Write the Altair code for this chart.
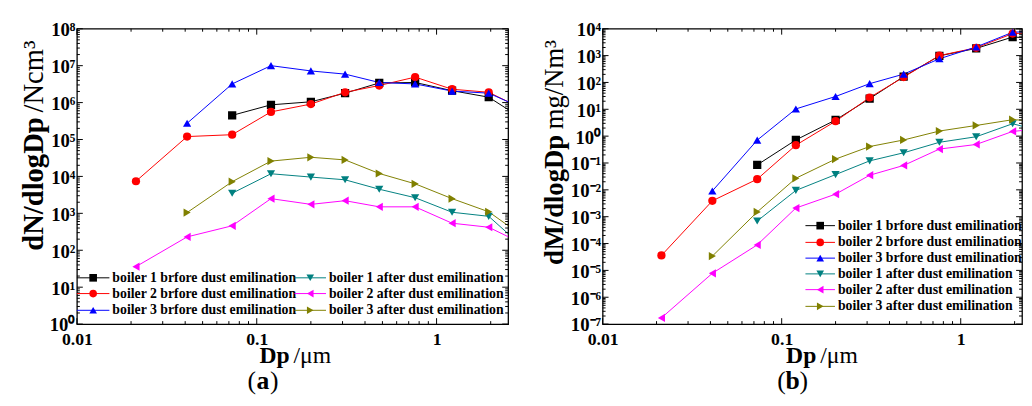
import altair as alt
import pandas as pd

FONT = "Liberation Serif"

# ---------------- data ----------------
dp_um = [0.0213, 0.041, 0.073, 0.12, 0.2, 0.31, 0.48, 0.76, 1.22, 1.95, 3.1]

series_names = [
    "boiler 1 brfore dust emilination",
    "boiler 2 brfore dust emilination",
    "boiler 3 brfore dust emilination",
    "boiler 1 after dust emilination",
    "boiler 2 after dust emilination",
    "boiler 3 after dust emilination",
]
series_colors = ["#000000", "#ff0000", "#0000ff", "#008080", "#ff00ff", "#808000"]
series_shapes = ["square", "circle", "triangle-up", "triangle-down", "triangle-left", "triangle-right"]

# panel (a): number size distribution dN/dlogDp
dN_b1_before = [None, None, 4.5e5, 8.7e5, 1.05e6, 1.8e6, 3.4e6, 3.5e6, 2.1e6, 1.4e6, 3.3e5]
dN_b2_before = [7.4e3, 1.2e5, 1.35e5, 5.6e5, 9.1e5, 1.9e6, 2.9e6, 4.9e6, 2.3e6, 1.9e6, 6.3e5]
dN_b3_before = [None, 2.75e5, 3.2e6, 1.0e7, 7.2e6, 5.9e6, 3.5e6, 3.2e6, 2.05e6, 1.8e6, 6.6e5]
dN_b1_after = [None, None, 3.5e3, 1.18e4, 9.6e3, 8.1e3, 4.5e3, 2.65e3, 1.07e3, 8.3e2, 1.1e2]
dN_b2_after = [36, 230, 460, 2.5e3, 1.75e3, 2.2e3, 1.5e3, 1.5e3, 540, 420, 140]
dN_b3_after = [None, 1.05e3, 7.2e3, 2.6e4, 3.3e4, 2.8e4, 1.2e4, 6.3e3, 2.5e3, 1.1e3, 220]

# panel (b): mass size distribution dM/dlogDp
dM_b1_before = [None, None, 0.085, 0.72, 4.0, 25, 165, 980, 1.85e3, 4.9e3, 4.3e3]
dM_b2_before = [3.6e-5, 3.9e-3, 0.025, 0.46, 3.6, 27.5, 158, 1.0e3, 1.95e3, 6.6e3, 7.4e3]
dM_b3_before = [None, 9.1e-3, 0.71, 10.3, 30, 90, 204, 760, 2.1e3, 7.4e3, 8.5e3]
dM_b1_after = [None, None, 6.9e-4, 9.5e-3, 0.037, 0.12, 0.24, 0.59, 0.95, 2.9, 1.3]
dM_b2_after = [1.7e-7, 7.8e-6, 8.9e-5, 2.1e-3, 6.9e-3, 0.035, 0.081, 0.33, 0.49, 1.5, 2.0]
dM_b3_after = [None, 3.4e-5, 1.5e-3, 0.027, 0.14, 0.41, 0.72, 1.55, 2.5, 4.1, 3.5]

x_tick_values = [0.01, 0.1, 1]
x_tick_labels = ["0.01", "0.1", "1"]
ya_tick_labels = ["10⁰", "10¹", "10²", "10³", "10⁴", "10⁵", "10⁶", "10⁷", "10⁸"]
yb_tick_labels = ["10⁻⁷", "10⁻⁶", "10⁻⁵", "10⁻⁴", "10⁻³", "10⁻²", "10⁻¹",
                  "10⁰", "10¹", "10²", "10³", "10⁴"]

color_scale = alt.Scale(domain=series_names, range=series_colors)
shape_scale = alt.Scale(domain=series_names, range=series_shapes)


def long_df(series_lists):
    rows = []
    for name, vals in zip(series_names, series_lists):
        for x, v in zip(dp_um, vals):
            if v is not None:
                rows.append({"dp": x, "val": v, "series": name})
    return pd.DataFrame(rows)


def one(text):
    return pd.DataFrame({"t": [text]})


def txt(text, x, y, size, weight="bold", align="left", baseline="middle", angle=0):
    return alt.Chart(one(text)).mark_text(
        font=FONT, fontSize=size, fontWeight=weight, align=align,
        baseline=baseline, angle=angle, color="black",
    ).encode(text="t:N", x=alt.value(x), y=alt.value(y))


def label_expr(exps, labels):
    e = "round(log(datum.value)/LN10)"
    expr = "''"
    for k, s in reversed(list(zip(exps, labels))):
        expr = "(%s == %d) ? '%s' : (%s)" % (e, k, s, expr)
    return expr


def panel(series_lists, W, H, xmax, ylo, yhi, ylabels, ytitle, xj, letter, letter_cx, legend_pos):
    xscale = alt.Scale(type="log", domain=[0.01, xmax], nice=False)
    yscale = alt.Scale(type="log", domain=[10.0 ** ylo, 10.0 ** yhi], nice=False)
    y_vals = [10.0 ** e for e in range(ylo, yhi + 1)]
    y_expr = label_expr(list(range(ylo, yhi + 1)), ylabels)
    x_expr = label_expr([-2, -1, 0], x_tick_labels)
    xaxis = alt.Axis(values=x_tick_values, labelExpr=x_expr, labelFont=FONT, labelFontWeight="bold",
                     labelFontSize=18, labelColor="black", ticks=False, domain=False, grid=False,
                     title=None, labelPadding=7, labelFlush=False, labelOverlap=False)
    yaxis = alt.Axis(values=y_vals, labelExpr=y_expr, labelFont=FONT, labelFontWeight="bold",
                     labelFontSize=19, labelColor="black", ticks=False, domain=False, grid=False,
                     title=None, labelPadding=2, labelOffset=1, labelOverlap=False)

    df = long_df(series_lists)
    base = alt.Chart(df)
    lines = base.mark_line(clip=True, strokeWidth=1).encode(
        x=alt.X("dp:Q", scale=xscale, axis=xaxis),
        y=alt.Y("val:Q", scale=yscale, axis=yaxis),
        color=alt.Color("series:N", scale=color_scale, legend=None),
        detail="series:N",
        order="dp:Q",
    )
    pts = base.mark_point(clip=True, filled=True, size=70, opacity=1).encode(
        x=alt.X("dp:Q", scale=xscale, axis=xaxis),
        y=alt.Y("val:Q", scale=yscale, axis=yaxis),
        color=alt.Color("series:N", scale=color_scale, legend=None),
        shape=alt.Shape("series:N", scale=shape_scale, legend=None),
    )
    layers = [lines, pts]

    # inward ticks on all four sides
    y_major = y_vals
    y_minor = [m * 10.0 ** e for e in range(ylo, yhi) for m in range(2, 10)]
    x_major = x_tick_values
    x_minor = [m * 10.0 ** e for e in range(-2, 1) for m in range(2, 10) if m * 10.0 ** e < xmax]
    for vals, L in [(y_major, 6), (y_minor, 3)]:
        b = alt.Chart(pd.DataFrame({"val": vals})).mark_rule(color="black", strokeWidth=1)
        layers.append(b.encode(y=alt.Y("val:Q", scale=yscale, axis=yaxis), x=alt.value(0), x2=alt.value(L)))
        layers.append(b.encode(y=alt.Y("val:Q", scale=yscale, axis=yaxis), x=alt.value(W), x2=alt.value(W - L)))
    for vals, L in [(x_major, 6), (x_minor, 3)]:
        b = alt.Chart(pd.DataFrame({"dp": vals})).mark_rule(color="black", strokeWidth=1)
        layers.append(b.encode(x=alt.X("dp:Q", scale=xscale, axis=xaxis), y=alt.value(H), y2=alt.value(H - L)))
        layers.append(b.encode(x=alt.X("dp:Q", scale=xscale, axis=xaxis), y=alt.value(0), y2=alt.value(L)))

    # legend
    for name, col, shp, (lx1, lx2, ly) in zip(series_names, series_colors, series_shapes, legend_pos):
        d = one(name)
        layers.append(alt.Chart(d).mark_rule(color=col, strokeWidth=1).encode(
            x=alt.value(lx1), x2=alt.value(lx2), y=alt.value(ly)))
        layers.append(alt.Chart(d).mark_point(filled=True, size=60, opacity=1).encode(
            x=alt.value((lx1 + lx2) / 2), y=alt.value(ly), shape=alt.value(shp), color=alt.value(col)))
        layers.append(txt(name, lx2 + 3, ly, 14))

    # y title (bold part + regular part), rotated
    tb, tr, tx, tj, tgap, tsize = ytitle
    layers.append(txt(tb, tx, tj, tsize, align="right", angle=270))
    layers.append(txt(tr, tx, tj - tgap, tsize, weight="normal", align="left", angle=270))

    # x title
    layers.append(txt("Dp", xj, 340, 24, align="right", baseline="alphabetic"))
    layers.append(txt("/μm", xj + 4, 340, 24, weight="normal", align="left", baseline="alphabetic"))

    # panel letter
    layers.append(txt("(", letter_cx - 7, 366, 26, weight="normal", align="right", baseline="alphabetic"))
    layers.append(txt(letter, letter_cx, 366, 26, align="center", baseline="alphabetic"))
    layers.append(txt(")", letter_cx + 7, 366, 26, weight="normal", align="left", baseline="alphabetic"))

    return alt.layer(*layers).properties(width=W, height=H)


legend_a = [(0, 33, 253), (0, 33, 269), (0, 33, 286),
            (221, 253, 253), (221, 253, 269), (221, 253, 286)]
legend_b = [(206, 236, 200), (206, 236, 217), (206, 236, 233),
            (206, 236, 249), (206, 236, 265), (206, 236, 282)]

left = panel([dN_b1_before, dN_b2_before, dN_b3_before, dN_b1_after, dN_b2_after, dN_b3_after],
             438, 300, 2.5, 0, 8, ya_tick_labels,
             ("dN/dlogDp", "/Ncm³", -43, 90, 5, 29), 216, "a", 189, legend_a)
right = panel([dM_b1_before, dM_b2_before, dM_b3_before, dM_b1_after, dM_b2_after, dM_b3_after],
              426, 300, 2.2, -7, 4, yb_tick_labels,
              ("dM/dlogDp", "mg/Nm³", -48, 108, 6, 27), 217, "b", 193, legend_b)

chart = alt.hconcat(left, right, spacing=31).resolve_scale(
    x="independent", y="independent"
).properties(
    padding={"left": 12, "top": 9, "right": 0, "bottom": 0},
    background="white",
).configure_view(stroke="black", strokeWidth=1.3)

chart.save("out.html", embed_options={"renderer": "svg", "actions": False})
